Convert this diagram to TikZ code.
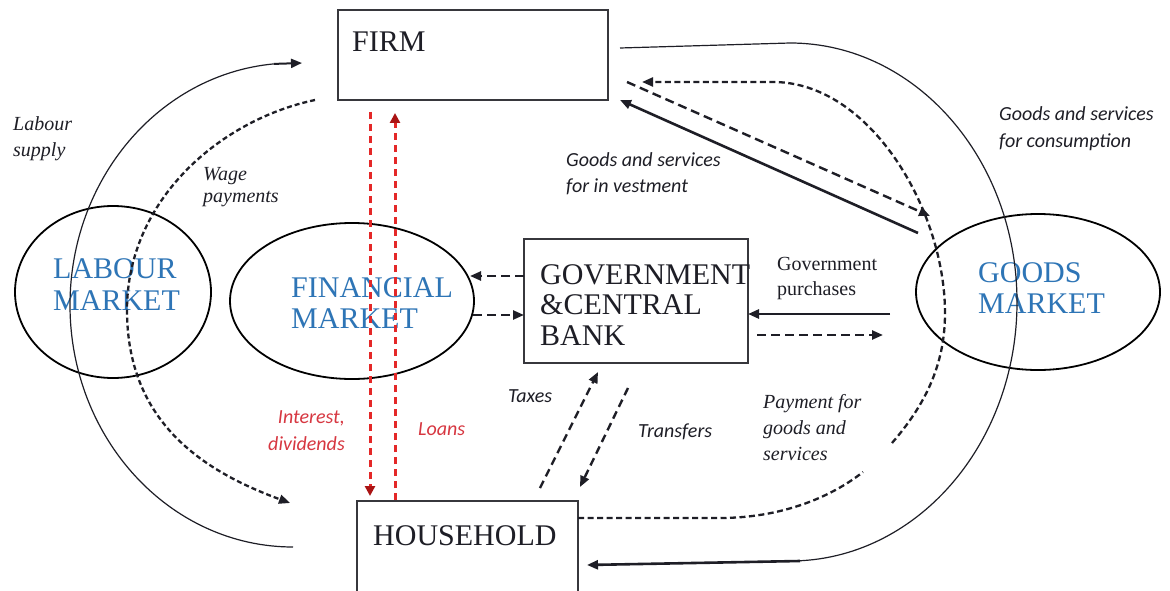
\documentclass[tikz,border=0pt]{standalone}
\usepackage{fontspec}
\setmainfont{Liberation Serif}
\newfontfamily\labelsans{Carlito}
\usetikzlibrary{arrows.meta,shapes.geometric}

\definecolor{ink}{RGB}{30,30,38}
\definecolor{boxline}{RGB}{55,55,60}
\definecolor{mktblue}{RGB}{46,117,182}
\definecolor{redtext}{RGB}{215,55,65}
\definecolor{redline}{RGB}{228,40,40}
\definecolor{redtip}{RGB}{170,20,20}

\begin{document}
\begin{tikzpicture}[x=1pt,y=1pt,
  box/.style={draw=boxline, line width=1.4pt, rectangle, inner sep=0pt},
  market/.style={draw=black, line width=1.8pt, ellipse, inner sep=0pt},
  % multi-line texts are placed by the baseline of their last line
  bigtext/.style={font=\fontsize{30}{30.5}\selectfont, text=ink, inner sep=0pt, anchor=base west, align=left},
  mkttext/.style={bigtext, text=mktblue},
  serifnote/.style={font=\fontsize{20}{26}\selectfont\itshape, text=ink, inner sep=0pt, anchor=base west, align=left},
  sansnote/.style={font=\fontsize{20}{26}\selectfont\labelsans\itshape, text=ink, inner sep=0pt, anchor=base west, align=left},
  rednote/.style={sansnote, text=redtext},
  flowthin/.style={draw=ink, line width=1.2pt},
  flowsolid/.style={draw=ink, line width=2.6pt},
  flowdash/.style={draw=ink, line width=2.4pt, dash pattern=on 9pt off 5pt},
  finedash/.style={draw=ink, line width=2.3pt, dash pattern=on 6pt off 3.5pt},
  reddash/.style={draw=redline, line width=3pt, dash pattern=on 7pt off 5pt},
  fwd/.style={-{Triangle[length=11pt,width=9pt]}},
  redfwd/.style={-{Triangle[length=10pt,width=10pt,color=redtip]}}
]
\fill[white] (0,0) rectangle (1170,-591);
\useasboundingbox (0,0) rectangle (1170,-591);

% sectors and markets
\node[box, minimum width=270, minimum height=90] (firm) at (473,-55) {};
\node[box, minimum width=221, minimum height=110] (hh) at (467.5,-556) {};
\node[box, minimum width=224, minimum height=124] (gov) at (636,-301) {};
\node[market, minimum width=196, minimum height=172] (lab) at (113,-292) {};
\node[market, minimum width=244, minimum height=156] (fin) at (352,-301) {};
\node[market, minimum width=244, minimum height=156] (goods) at (1038,-292) {};

\node[bigtext] (firm-t) at (352,-52) {FIRM};
\node[bigtext] (hh-t) at (373,-545) {HOUSEHOLD};
\node[bigtext] (gov-t) at (540,-345) {GOVERNMENT\\\&CENTRAL\\BANK};
\node[mkttext, font=\fontsize{30}{32}\selectfont] (lab-t) at (53,-310) {LABOUR\\MARKET};
\node[mkttext, font=\fontsize{30}{31}\selectfont] (fin-t) at (291,-328) {FINANCIAL\\MARKET};
\node[mkttext, font=\fontsize{30}{31}\selectfont] (goods-t) at (978,-313) {GOODS\\MARKET};

% flow labels
\node[serifnote] (l-labour) at (13,-157) {Labour\\supply};
\node[serifnote, font=\fontsize{20}{22}\selectfont\itshape] (l-wage) at (203,-202) {Wage\\payments};
\node[sansnote] (l-invest) at (566,-193) {Goods and services\\for in vestment};
\node[sansnote, font=\fontsize{20}{27}\selectfont\labelsans\itshape] (l-cons) at (999,-147) {Goods and services\\for consumption};
\node[serifnote, font=\fontsize{20}{25}\selectfont] (l-gp) at (777,-295) {Government\\purchases};
\node[sansnote] (l-tax) at (508,-402) {Taxes};
\node[sansnote] (l-trans) at (638,-437) {Transfers};
\node[serifnote] (l-pay) at (763,-460) {Payment for\\goods and\\services};
\node[rednote, anchor=base east, align=right, font=\fontsize{20}{27}\selectfont\labelsans\itshape] (l-int) at (345,-450) {Interest,\\dividends};
\node[rednote] (l-loans) at (418,-435) {Loans};

% connector end points
\coordinate (ls-s) at (293,-547);
\coordinate (ls-e) at (302,-63);
\coordinate (wp-s) at (315,-100);
\coordinate (wp-e) at (290,-503);
\coordinate (id-s) at (370,-112);
\coordinate (id-e) at (370,-496);
\coordinate (ln-s) at (395,-500);
\coordinate (ln-e) at (395,-113);
\coordinate (gf-s) at (524,-276);
\coordinate (gf-e) at (470,-276);
\coordinate (fg-s) at (473,-315);
\coordinate (fg-e) at (524,-315);
\coordinate (gp-s) at (890,-314);
\coordinate (gp-e) at (748,-314);
\coordinate (gm-s) at (757,-335);
\coordinate (gm-e) at (883,-335);
\coordinate (tx-s) at (540,-488);
\coordinate (tx-e) at (598,-372);
\coordinate (tr-s) at (628,-388);
\coordinate (tr-e) at (580,-487);
\coordinate (iv-s) at (918,-233);
\coordinate (iv-e) at (620,-100);
\coordinate (fm-s) at (627,-82);
\coordinate (fm-e) at (930,-216);
\coordinate (pg-s) at (578,-518);
\coordinate (pg-e) at (642,-82);
\coordinate (cs-s) at (620,-48);
\coordinate (cs-b) at (800,-561);
\coordinate (cs-e) at (587,-565);

% labour market flows
\draw[flowthin] (ls-s) arc[start angle=270, end angle=95, x radius=223, y radius=242] coordinate (ls-top);
\draw[flowsolid, line width=2pt, fwd] (ls-top) -- (ls-e);
\draw[finedash, dash pattern=on 5pt off 3pt, fwd] (wp-s) .. controls (220,-120) and (127,-200) .. (127,-310)
      .. controls (127,-420) and (200,-470) .. (wp-e);

% financial flows
\draw[reddash, redfwd] (id-s) -- (id-e);
\draw[reddash, redfwd] (ln-s) -- (ln-e);
\draw[flowdash, fwd] (gf-s) -- (gf-e);
\draw[flowdash, fwd] (fg-s) -- (fg-e);

% government flows
\draw[flowsolid, fwd] (gp-s) -- (gp-e);
\draw[flowdash, fwd] (gm-s) -- (gm-e);
\draw[flowdash, dash pattern=on 8pt off 5pt, fwd] (tx-s) -- (tx-e);
\draw[flowdash, dash pattern=on 8pt off 5pt, fwd] (tr-s) -- (tr-e);

% goods market flows
\draw[flowsolid, fwd] (iv-s) -- (iv-e);
\draw[flowdash, fwd] (fm-s) -- (fm-e);
\draw[finedash, fwd] (pg-s) -- (720,-518) .. controls (780,-518) and (830,-498) .. (863,-472)
      (892,-443) .. controls (925,-405) and (945,-365) .. (945,-313)
      .. controls (945,-210) and (870,-82) .. (773,-82) -- (pg-e);
\draw[flowthin] (cs-s) -- (790,-43) arc[start angle=90, end angle=-90, x radius=227, y radius=259];
\draw[flowsolid, fwd] (cs-b) -- (cs-e);
\end{tikzpicture}
\end{document}
